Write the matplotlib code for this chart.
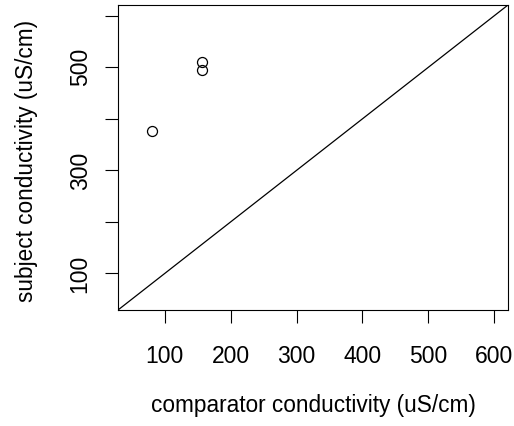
import matplotlib
matplotlib.use("Agg")
import matplotlib.pyplot as plt

# values
comparator = [81, 156, 156]
subject = [377, 511, 494]
x_ticks = [100, 200, 300, 400, 500, 600]
y_ticks = [100, 200, 300, 400, 500, 600]
y_tick_labels = ["100", "", "300", "", "500", ""]
lims = (29, 621)

plt.rcParams['font.family'] = ['Liberation Sans', 'DejaVu Sans']

fig = plt.figure(figsize=(5.14, 4.26), dpi=100)
ax = fig.add_axes([118 / 514, 1 - 310 / 426, 390 / 514, 305 / 426])

ax.plot(comparator, subject, linestyle='none', marker='o', markersize=7.2,
        markerfacecolor='none', markeredgecolor='black', markeredgewidth=0.9)
ax.axline((0, 0), slope=1, color='black', linewidth=0.9)

ax.set_xlim(*lims)
ax.set_ylim(*lims)
ax.set_xticks(x_ticks)
ax.set_xticklabels([str(v) for v in x_ticks])
ax.set_yticks(y_ticks)
ax.set_yticklabels(y_tick_labels, rotation=90, va='center')

for s in ax.spines.values():
    s.set_linewidth(0.8)
ax.tick_params(axis='both', length=9.5, width=0.8, labelsize=16.5)
ax.tick_params(axis='x', pad=16)
ax.tick_params(axis='y', pad=9.5)

ax.set_xlabel("comparator conductivity (uS/cm)", fontsize=16.3)
ax.set_ylabel("subject conductivity (uS/cm)", fontsize=16.3)
ax.xaxis.set_label_coords(0.5, -0.275)
ax.yaxis.set_label_coords(-0.205, 0.49)

fig.savefig("out.png", dpi=100)
